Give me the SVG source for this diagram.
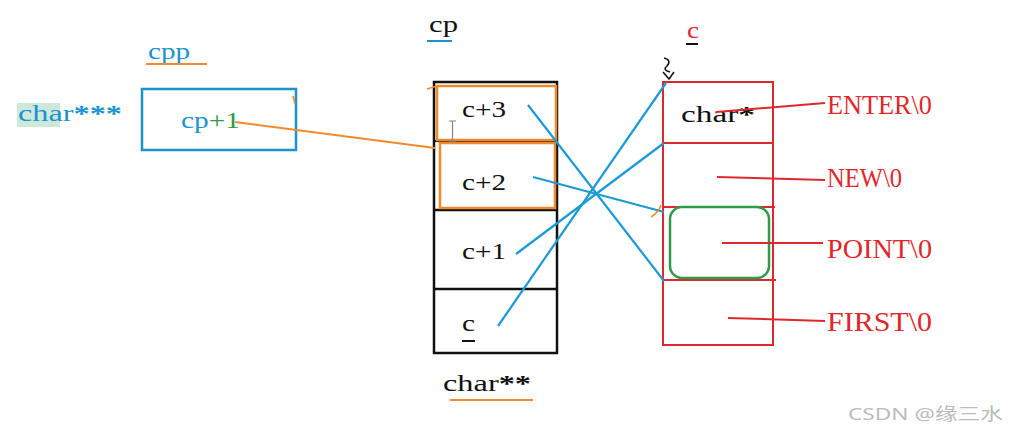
<svg xmlns="http://www.w3.org/2000/svg" width="1011" height="433" viewBox="0 0 1011 433">
<style>
.s{font-family:"Liberation Serif",serif;font-size:24px}
.bl{fill:#1b93cf}
.k{fill:#111}
.st{font-weight:bold}
.r{fill:#e0282c;font-family:"Liberation Serif",serif;font-size:28px}
.cn{stroke:#1b9ad6;stroke-width:2.2;fill:none}
.rl{stroke:#e0282c;stroke-width:2;fill:none}
.or{stroke:#f08a2c;fill:none}
</style>
<rect width="1011" height="433" fill="#fff"/>
<g id="cpp">
<text x="148" y="59" class="s bl" textLength="42" lengthAdjust="spacingAndGlyphs">cpp</text>
<line x1="146" y1="64" x2="207" y2="64" class="or" stroke-width="2"/>
<rect x="17" y="103" width="43" height="24" fill="#cfe8dc"/>
<text x="18" y="121" class="s bl" textLength="104" lengthAdjust="spacingAndGlyphs">char<tspan class="st">***</tspan></text>
<rect x="142" y="89" width="154" height="61" fill="none" stroke="#1b93cf" stroke-width="2.5"/>
<text x="181" y="128" class="s" textLength="59" lengthAdjust="spacingAndGlyphs"><tspan fill="#1b93cf">cp</tspan><tspan fill="#2e9a4a">+1</tspan></text>
<path d="M293 96 L295 104" class="or" stroke-width="1.5"/>
</g>
<g id="cp">
<text x="429" y="32" class="s k" textLength="29" lengthAdjust="spacingAndGlyphs">cp</text>
<line x1="427" y1="41" x2="452" y2="41" stroke="#1b93cf" stroke-width="2"/>
<rect x="434" y="82" width="123" height="271" fill="none" stroke="#111" stroke-width="2.5"/>
<line x1="434" y1="141" x2="557" y2="141" stroke="#111" stroke-width="2"/>
<line x1="434" y1="210" x2="557" y2="210" stroke="#111" stroke-width="2.5"/>
<line x1="434" y1="289" x2="557" y2="289" stroke="#111" stroke-width="2.5"/>
<rect x="437" y="86" width="119" height="54" class="or" stroke-width="2.5"/>
<rect x="440" y="143" width="115" height="65" class="or" stroke-width="2.5"/>
<path d="M427 89 L437 86" class="or" stroke-width="1.5"/>
<text x="462" y="117" class="s k" textLength="44" lengthAdjust="spacingAndGlyphs">c+3</text>
<text x="462" y="190" class="s k" textLength="44" lengthAdjust="spacingAndGlyphs">c+2</text>
<text x="462" y="259" class="s k" textLength="44" lengthAdjust="spacingAndGlyphs">c+1</text>
<text x="462" y="331" class="s k" textLength="13" lengthAdjust="spacingAndGlyphs">c</text>
<line x1="462" y1="341" x2="475" y2="341" stroke="#111" stroke-width="2"/>
<path d="M449 121 H456 M452.5 121 V141 M449 141 H456" stroke="#888" stroke-width="1.2" fill="none"/>
<text x="443" y="391" class="s k" textLength="88" lengthAdjust="spacingAndGlyphs">char<tspan class="st">**</tspan></text>
<line x1="450" y1="400" x2="533" y2="400" class="or" stroke-width="2"/>
</g>
<g id="c">
<text x="687" y="38" class="s" fill="#e0282c" textLength="12" lengthAdjust="spacingAndGlyphs">c</text>
<line x1="686" y1="44" x2="698" y2="44" stroke="#111" stroke-width="2"/>
<path d="M664 58 Q672 60 667 66 Q662 70 670 72 M663 72 L669 79 L674 72" stroke="#111" stroke-width="1.5" fill="none"/>
<rect x="663" y="82" width="110" height="263" class="rl" stroke-width="2.5"/>
<line x1="663" y1="143" x2="773" y2="143" class="rl"/>
<line x1="663" y1="207" x2="775" y2="207" class="rl"/>
<line x1="663" y1="280" x2="776" y2="280" class="rl"/>
<rect x="670" y="207" width="99" height="71" rx="12" fill="none" stroke="#2e9a4a" stroke-width="2.5"/>
<text x="681" y="122" class="s k" textLength="74" lengthAdjust="spacingAndGlyphs">char<tspan class="st">*</tspan></text>
</g>
<g id="strings">
<text x="827" y="114" class="r" textLength="105" lengthAdjust="spacingAndGlyphs">ENTER\0</text>
<text x="827" y="187" class="r" textLength="75" lengthAdjust="spacingAndGlyphs">NEW\0</text>
<text x="827" y="258" class="r" textLength="105" lengthAdjust="spacingAndGlyphs">POINT\0</text>
<text x="827" y="331" class="r" textLength="105" lengthAdjust="spacingAndGlyphs">FIRST\0</text>
</g>
<g id="connectors">
<path d="M235 122 L435 148" class="or" stroke-width="2"/>
<path d="M528 105 L664 281" class="cn"/>
<path d="M533 177 L664 212" class="cn"/>
<path d="M516 254 L664 143" class="cn"/>
<path d="M498 326 L666 83" class="cn"/>
<path d="M651 217 Q659 212 661 205" class="or" stroke-width="1.5"/>
<path d="M716 112 L825 103" class="rl"/>
<path d="M717 177 L825 180" class="rl"/>
<path d="M722 243 L823 243" class="rl"/>
<path d="M728 318 L825 321" class="rl"/>
</g>
<text x="848" y="420" font-family="'Noto Sans','Noto Sans CJK SC',sans-serif" font-size="17" fill="#bbb" textLength="155" lengthAdjust="spacingAndGlyphs">CSDN @缘三水</text>
</svg>
